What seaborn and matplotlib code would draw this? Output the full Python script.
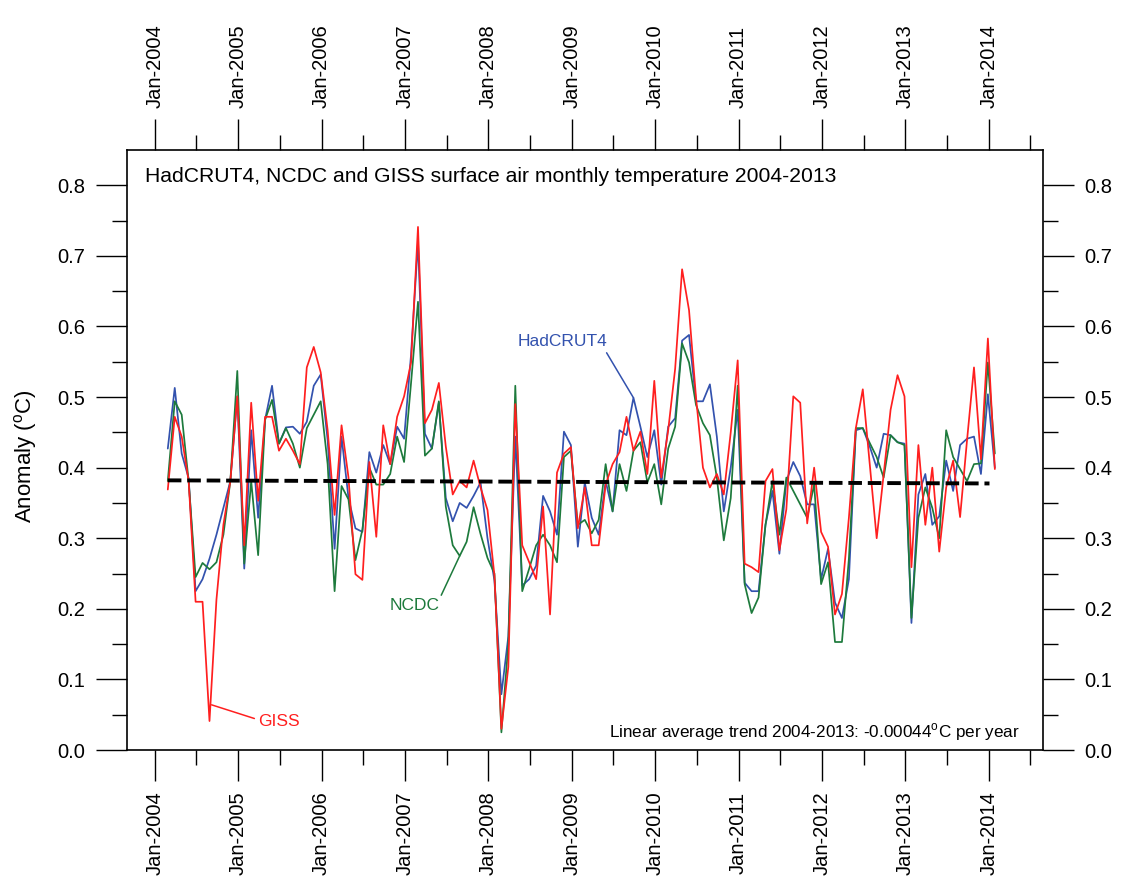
import numpy as np
import pandas as pd
import seaborn as sns
import matplotlib.pyplot as plt
from matplotlib.ticker import FixedLocator

# monthly anomalies Jan 2004 - Dec 2013
hadcrut4 = [0.427, 0.513, 0.420, 0.385, 0.225, 0.242, 0.271, 0.305, 0.343, 0.381, 0.501, 0.257,
            0.453, 0.329, 0.468, 0.516, 0.434, 0.457, 0.458, 0.448, 0.465, 0.516, 0.532, 0.439,
            0.285, 0.444, 0.357, 0.314, 0.309, 0.422, 0.393, 0.432, 0.405, 0.458, 0.441, 0.560,
            0.720, 0.448, 0.427, 0.492, 0.357, 0.324, 0.350, 0.343, 0.360, 0.379, 0.300, 0.240,
            0.079, 0.161, 0.444, 0.233, 0.242, 0.261, 0.360, 0.338, 0.305, 0.451, 0.432, 0.288,
            0.379, 0.329, 0.305, 0.381, 0.338, 0.453, 0.446, 0.499, 0.458, 0.415, 0.453, 0.376,
            0.458, 0.470, 0.580, 0.588, 0.494, 0.494, 0.518, 0.444, 0.338, 0.400, 0.482, 0.237,
            0.225, 0.225, 0.319, 0.367, 0.278, 0.381, 0.408, 0.388, 0.348, 0.348, 0.242, 0.285,
            0.209, 0.187, 0.242, 0.453, 0.456, 0.430, 0.400, 0.448, 0.446, 0.436, 0.434, 0.180,
            0.362, 0.391, 0.319, 0.331, 0.410, 0.367, 0.432, 0.441, 0.444, 0.391, 0.504, 0.400]

ncdc = [0.381, 0.494, 0.475, 0.381, 0.245, 0.265, 0.256, 0.266, 0.305, 0.381, 0.537, 0.264,
        0.381, 0.276, 0.468, 0.496, 0.434, 0.456, 0.434, 0.400, 0.456, 0.475, 0.494, 0.405,
        0.225, 0.374, 0.355, 0.269, 0.312, 0.400, 0.376, 0.376, 0.391, 0.444, 0.408, 0.520,
        0.635, 0.417, 0.427, 0.494, 0.345, 0.290, 0.275, 0.295, 0.344, 0.306, 0.272, 0.250,
        0.025, 0.150, 0.516, 0.225, 0.257, 0.290, 0.305, 0.290, 0.266, 0.415, 0.424, 0.319,
        0.326, 0.307, 0.326, 0.405, 0.338, 0.405, 0.367, 0.424, 0.436, 0.379, 0.405, 0.348,
        0.427, 0.458, 0.576, 0.549, 0.489, 0.463, 0.446, 0.386, 0.297, 0.357, 0.516, 0.235,
        0.194, 0.216, 0.319, 0.381, 0.305, 0.386, 0.367, 0.348, 0.329, 0.376, 0.235, 0.266,
        0.153, 0.153, 0.271, 0.456, 0.456, 0.435, 0.415, 0.386, 0.446, 0.436, 0.432, 0.187,
        0.329, 0.372, 0.343, 0.300, 0.453, 0.415, 0.398, 0.381, 0.405, 0.406, 0.549, 0.420]

giss = [0.369, 0.472, 0.444, 0.381, 0.210, 0.210, 0.041, 0.213, 0.319, 0.381, 0.501, 0.290,
        0.492, 0.353, 0.472, 0.472, 0.424, 0.441, 0.424, 0.405, 0.542, 0.571, 0.535, 0.453,
        0.333, 0.460, 0.386, 0.249, 0.241, 0.408, 0.302, 0.460, 0.405, 0.472, 0.501, 0.549,
        0.741, 0.463, 0.482, 0.520, 0.430, 0.362, 0.381, 0.372, 0.410, 0.372, 0.340, 0.247,
        0.030, 0.118, 0.490, 0.290, 0.266, 0.242, 0.345, 0.192, 0.393, 0.420, 0.429, 0.314,
        0.372, 0.290, 0.290, 0.376, 0.405, 0.422, 0.472, 0.424, 0.451, 0.391, 0.523, 0.386,
        0.453, 0.540, 0.681, 0.623, 0.500, 0.400, 0.372, 0.391, 0.362, 0.450, 0.552, 0.264,
        0.259, 0.252, 0.381, 0.398, 0.283, 0.341, 0.501, 0.492, 0.321, 0.400, 0.309, 0.288,
        0.192, 0.221, 0.329, 0.456, 0.511, 0.405, 0.300, 0.390, 0.482, 0.531, 0.501, 0.259,
        0.432, 0.319, 0.400, 0.281, 0.372, 0.410, 0.330, 0.439, 0.542, 0.412, 0.583, 0.398]

tick_years = list(range(2004, 2015))
tick_labels = ['Jan-%d' % y for y in tick_years]
y_labels = ['0.0', '0.1', '0.2', '0.3', '0.4', '0.5', '0.6', '0.7', '0.8']

# linear trend 2004-2013, -0.00044 C per year
trend_values = [0.382, 0.3776]

# x axis in months since Jan 2004; the original draws the series a bit right of the ticks
offset = 1.87
months = np.arange(len(hadcrut4)) + offset
trend_months = [months[0], 120.1]

sns.set_style('ticks')
plt.rcParams['font.family'] = ['Liberation Sans', 'DejaVu Sans']
plt.rcParams['mathtext.fontset'] = 'custom'
plt.rcParams['mathtext.rm'] = 'Liberation Sans'
plt.rcParams['text.color'] = 'black'
plt.rcParams['axes.labelcolor'] = 'black'

df = pd.DataFrame({
    'month': np.tile(months, 3),
    'anomaly': hadcrut4 + ncdc + giss,
    'series': ['HadCRUT4'] * len(hadcrut4) + ['NCDC'] * len(ncdc) + ['GISS'] * len(giss),
})
palette = {'HadCRUT4': '#3352AE', 'NCDC': '#1D7A3C', 'GISS': '#FF1F1F'}

fig = plt.figure(figsize=(11.21, 8.83), dpi=100)
ax = fig.add_axes([127 / 1121, 1 - 750 / 883, 916 / 1121, 600 / 883])

sns.lineplot(data=df, x='month', y='anomaly', hue='series', hue_order=['HadCRUT4', 'NCDC', 'GISS'],
             palette=palette, linewidth=1.25, estimator=None, legend=False, ax=ax)
ax.plot(trend_months, trend_values, color='black', linewidth=2.8, linestyle=(0, (3.5, 1.5)))

ax.set_xlim(-4.0, 127.8)
ax.set_ylim(0, 0.85)
ax.set_xticks(np.arange(0, 121, 12))
ax.set_xticklabels(tick_labels, rotation=90)
ax.xaxis.set_minor_locator(FixedLocator(np.arange(6, 127, 12)))
ax.set_yticks(np.arange(0, 0.81, 0.1))
ax.set_yticklabels(y_labels)
ax.yaxis.set_minor_locator(FixedLocator(np.arange(0.05, 0.8, 0.1)))
ax.tick_params(which='major', direction='out', length=22, width=1.0, labelsize=14.5, pad=8,
               top=True, right=True, labeltop=True, labelright=True, colors='black')
ax.tick_params(which='minor', direction='out', length=11, width=1.0, top=True, right=True,
               colors='black')
for s in ax.spines.values():
    s.set_linewidth(1.2)
    s.set_color('black')

ax.set_xlabel('')
ax.set_ylabel(r'Anomaly ($^{\mathrm{o}}$C)', fontsize=16)
ax.yaxis.set_label_coords(-0.111, 0.49)
ax.yaxis.label.set_va('center')

ax.text(0.0197, 0.955, 'HadCRUT4, NCDC and GISS surface air monthly temperature 2004-2013',
        transform=ax.transAxes, fontsize=15.2, va='center', ha='left')
ax.text(0.975, 0.03, r'Linear average trend 2004-2013: -0.00044$^{\mathrm{o}}$C per year',
        transform=ax.transAxes, fontsize=12.3, va='center', ha='right')

ax.annotate('HadCRUT4', xy=(months[67], hadcrut4[67]), xytext=(52.2, 0.578), color=palette['HadCRUT4'],
            fontsize=12.5, va='center', ha='left',
            arrowprops=dict(arrowstyle='-', color=palette['HadCRUT4'], lw=1.1, shrinkA=0, shrinkB=0,
                            relpos=(0.97, 0.0)))
ax.annotate('NCDC', xy=(months[42], ncdc[42]), xytext=(33.8, 0.204), color=palette['NCDC'],
            fontsize=12.5, va='center', ha='left',
            arrowprops=dict(arrowstyle='-', color=palette['NCDC'], lw=1.1, shrinkA=0, shrinkB=0,
                            relpos=(1.0, 1.0)))
ax.annotate('GISS', xy=(months[6] + 0.3, 0.064), xytext=(14.8, 0.041), color=palette['GISS'],
            fontsize=12.5, va='center', ha='left',
            arrowprops=dict(arrowstyle='-', color=palette['GISS'], lw=1.1, shrinkA=0, shrinkB=0,
                            relpos=(0.0, 0.6)))

fig.savefig('out.png', dpi=100)
